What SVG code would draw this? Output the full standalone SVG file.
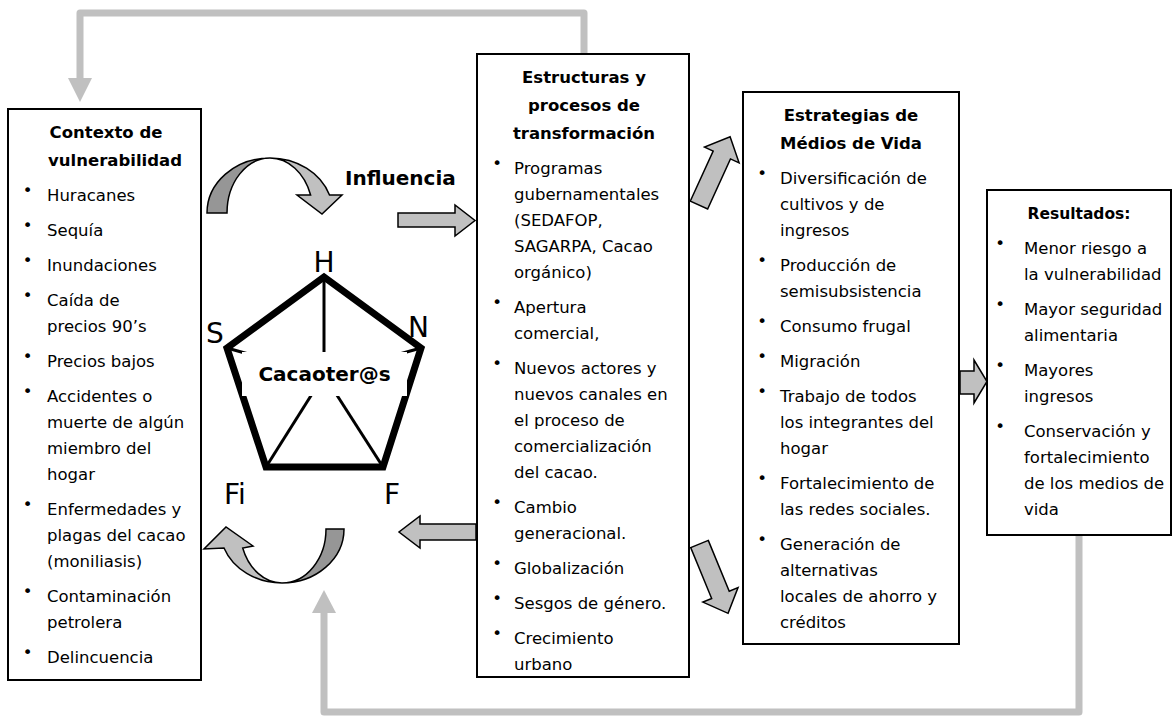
<svg xmlns="http://www.w3.org/2000/svg" width="1174" height="721" viewBox="0 0 1174 721">
<style>
.bg{fill:#fff}
.box{fill:#fff;stroke:#000;stroke-width:2}
text{font-family:"DejaVu Sans","Liberation Sans",sans-serif;fill:#000}
.t{font-size:16.5px}
.h{font-size:16.5px;font-weight:bold;text-anchor:middle}
.bu{font-size:16.5px;text-anchor:middle}
.lbl{font-size:28px}
.blk{fill:#c0c0c0;stroke:#000;stroke-width:1.5;stroke-linejoin:miter}
.dark{fill:#969696;stroke:#000;stroke-width:1.5}
.fb{fill:none;stroke:#c0c0c0;stroke-width:7;stroke-linejoin:round}
.fbh{fill:#c0c0c0}
</style>
<rect class="bg" x="0" y="0" width="1174" height="721"/>

<g id="connectors">
  <path class="fb" d="M584,54 V13 H80 V80"/>
  <polygon class="fbh" points="68,78 92,78 80,102"/>
  <path class="fb" d="M1079,535 V712 H324 V612"/>
  <polygon class="fbh" points="312,613 336,613 324,590"/>
  <path class="dark" d="M207,213 A63,55 0 0 1 270,158 A43,55 0 0 0 227,213 Z"/>
  <path class="blk" d="M270,158 A63,55 0 0 1 329.5,195 L342,195 L322,214 L297,195 L310.6,195 A43,55 0 0 0 270,158 Z"/>
  <text x="345" y="185" style="font-size:20px;font-weight:bold">Influencia</text>
  <polygon class="blk" points="398,213 455,213 455,205 475,220.5 455,236 455,227 398,227"/>
  <polygon class="blk" points="476,524 420,524 420,516 399,532 420,548 420,540 476,540"/>
  <path class="dark" d="M344,529 A62,54 0 0 1 282,583 A44,54 0 0 0 326,529 Z"/>
  <path class="blk" d="M282,583 A62,54 0 0 1 224,548 L204,549 L226,527 L253,546 L242.7,548 A42,54 0 0 0 282,583 Z"/>
  <polygon class="blk" transform="translate(699,205) rotate(-65.5)" points="0,-9.5 55,-9.5 55,-19 75,0 55,19 55,9.5 0,9.5"/>
  <polygon class="blk" transform="translate(699.5,544) rotate(67.6)" points="0,-9.5 55,-9.5 55,-19 75,0 55,19 55,9.5 0,9.5"/>
  <polygon class="blk" points="960,371 974,371 974,360 987,381.5 974,403 974,394 960,394"/>
</g>

<g id="contexto">
  <rect class="box" x="8" y="109" width="193" height="571"/>
  <text class="h" x="106" y="138">Contexto de</text>
  <text class="h" x="115" y="166">vulnerabilidad</text>
  <g class="bu">
    <text class="bu" x="27.5" y="196">•</text>
    <text class="bu" x="27.5" y="231">•</text>
    <text class="bu" x="27.5" y="266">•</text>
    <text class="bu" x="27.5" y="301">•</text>
    <text class="bu" x="27.5" y="362">•</text>
    <text class="bu" x="27.5" y="397">•</text>
    <text class="bu" x="27.5" y="510">•</text>
    <text class="bu" x="27.5" y="597">•</text>
    <text class="bu" x="27.5" y="658">•</text>
  </g>
  <text class="t" x="47" y="201">Huracanes</text>
  <text class="t" x="47" y="236">Sequía</text>
  <text class="t" x="47" y="271">Inundaciones</text>
  <text class="t" x="47" y="306">Caída de</text>
  <text class="t" x="47" y="332">precios 90’s</text>
  <text class="t" x="47" y="367">Precios bajos</text>
  <text class="t" x="47" y="402">Accidentes o</text>
  <text class="t" x="47" y="428">muerte de algún</text>
  <text class="t" x="47" y="454">miembro del</text>
  <text class="t" x="47" y="480">hogar</text>
  <text class="t" x="47" y="515">Enfermedades y</text>
  <text class="t" x="47" y="541">plagas del cacao</text>
  <text class="t" x="47" y="567">(moniliasis)</text>
  <text class="t" x="47" y="602">Contaminación</text>
  <text class="t" x="47" y="628">petrolera</text>
  <text class="t" x="47" y="663">Delincuencia</text>
</g>

<g id="cacaoteros">
  <polygon points="324,277 421,348 383,467 266,467 227,348" fill="#fff" stroke="#000" stroke-width="7" stroke-linejoin="miter"/>
  <g stroke="#000" stroke-width="3">
    <line x1="324" y1="277" x2="324" y2="375"/>
    <line x1="227" y1="348" x2="324" y2="375"/>
    <line x1="421" y1="348" x2="324" y2="375"/>
    <line x1="266" y1="467" x2="324" y2="375"/>
    <line x1="383" y1="467" x2="324" y2="375"/>
  </g>
  <rect x="242" y="352" width="165" height="44" fill="#fff"/>
  <text x="324.5" y="381" style="font-size:20px;font-weight:bold;text-anchor:middle">Cacaoter@s</text>
  <text class="lbl" x="324" y="272" text-anchor="middle">H</text>
  <text class="lbl" x="206" y="343">S</text>
  <text class="lbl" x="408" y="337">N</text>
  <text class="lbl" x="224" y="504">Fi</text>
  <text class="lbl" x="384" y="504">F</text>
</g>

<g id="estructuras">
  <rect class="box" x="477" y="54" width="212" height="623"/>
  <text class="h" x="584" y="83">Estructuras y</text>
  <text class="h" x="584" y="111">procesos de</text>
  <text class="h" x="584" y="139">transformación</text>
  <text class="bu" x="497" y="169">•</text>
  <text class="bu" x="497" y="308">•</text>
  <text class="bu" x="497" y="369">•</text>
  <text class="bu" x="497" y="508">•</text>
  <text class="bu" x="497" y="569">•</text>
  <text class="bu" x="497" y="604">•</text>
  <text class="bu" x="497" y="639">•</text>
  <text class="t" x="514" y="174">Programas</text>
  <text class="t" x="514" y="200">gubernamentales</text>
  <text class="t" x="514" y="226">(SEDAFOP,</text>
  <text class="t" x="514" y="252">SAGARPA, Cacao</text>
  <text class="t" x="514" y="278">orgánico)</text>
  <text class="t" x="514" y="313">Apertura</text>
  <text class="t" x="514" y="339">comercial,</text>
  <text class="t" x="514" y="374">Nuevos actores y</text>
  <text class="t" x="514" y="400">nuevos canales en</text>
  <text class="t" x="514" y="426">el proceso de</text>
  <text class="t" x="514" y="452">comercialización</text>
  <text class="t" x="514" y="478">del cacao.</text>
  <text class="t" x="514" y="513">Cambio</text>
  <text class="t" x="514" y="539">generacional.</text>
  <text class="t" x="514" y="574">Globalización</text>
  <text class="t" x="514" y="609">Sesgos de género.</text>
  <text class="t" x="514" y="644">Crecimiento</text>
  <text class="t" x="514" y="670">urbano</text>
</g>

<g id="estrategias">
  <rect class="box" x="743" y="92" width="216" height="552"/>
  <text class="h" x="851" y="121">Estrategias de</text>
  <text class="h" x="851" y="149">Médios de Vida</text>
  <text class="bu" x="762" y="179">•</text>
  <text class="bu" x="762" y="266">•</text>
  <text class="bu" x="762" y="327">•</text>
  <text class="bu" x="762" y="362">•</text>
  <text class="bu" x="762" y="397">•</text>
  <text class="bu" x="762" y="484">•</text>
  <text class="bu" x="762" y="545">•</text>
  <text class="t" x="780" y="184">Diversificación de</text>
  <text class="t" x="780" y="210">cultivos y de</text>
  <text class="t" x="780" y="236">ingresos</text>
  <text class="t" x="780" y="271">Producción  de</text>
  <text class="t" x="780" y="297">semisubsistencia</text>
  <text class="t" x="780" y="332">Consumo frugal</text>
  <text class="t" x="780" y="367">Migración</text>
  <text class="t" x="780" y="402">Trabajo de todos</text>
  <text class="t" x="780" y="428">los integrantes del</text>
  <text class="t" x="780" y="454">hogar</text>
  <text class="t" x="780" y="489">Fortalecimiento de</text>
  <text class="t" x="780" y="515">las redes sociales.</text>
  <text class="t" x="780" y="550">Generación de</text>
  <text class="t" x="780" y="576">alternativas</text>
  <text class="t" x="780" y="602">locales de ahorro y</text>
  <text class="t" x="780" y="628">créditos</text>
</g>

<g id="resultados">
  <rect class="box" x="987" y="190" width="184" height="345"/>
  <text class="h" x="1079" y="219" style="font-size:15.5px">Resultados:</text>
  <text class="bu" x="1000" y="249">•</text>
  <text class="bu" x="1000" y="310">•</text>
  <text class="bu" x="1000" y="371">•</text>
  <text class="bu" x="1000" y="432">•</text>
  <text class="t" x="1024" y="254">Menor riesgo a</text>
  <text class="t" x="1024" y="280">la vulnerabilidad</text>
  <text class="t" x="1024" y="315">Mayor seguridad</text>
  <text class="t" x="1024" y="341">alimentaria</text>
  <text class="t" x="1024" y="376">Mayores</text>
  <text class="t" x="1024" y="402">ingresos</text>
  <text class="t" x="1024" y="437">Conservación y</text>
  <text class="t" x="1024" y="463">fortalecimiento</text>
  <text class="t" x="1024" y="489">de los medios de</text>
  <text class="t" x="1024" y="515">vida</text>
</g>
</svg>
